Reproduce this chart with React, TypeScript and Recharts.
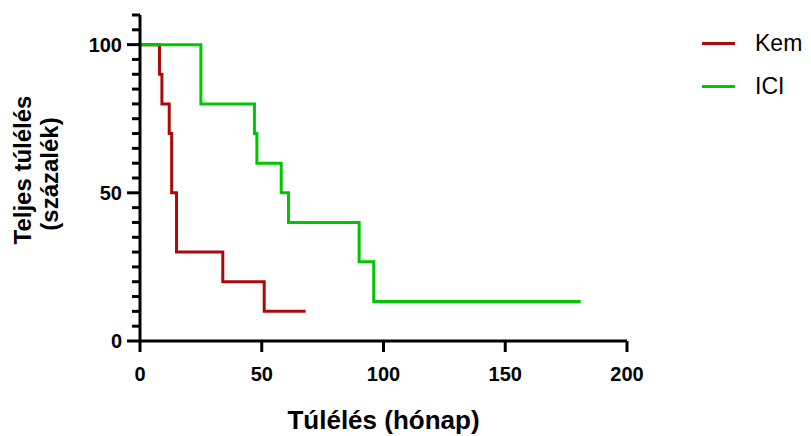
import React from 'react';
import { LineChart, Line, XAxis, YAxis } from 'recharts';

// Kaplan-Meier survival steps (time in months, survival in %)
const kemMonths = [0, 8, 9, 12, 13, 15, 34, 51, 68];
const kemSurvival = [100, 90, 80, 70, 50, 30, 20, 10, 10];

const iciMonths = [0, 25, 47, 48, 58, 61, 90, 96, 181];
const iciSurvival = [100, 80, 70, 60, 50, 40, 26.7, 13.3, 13.3];

const xTicks = [0, 50, 100, 150, 200];
const yTicks = [0, 5, 10, 15, 20, 25, 30, 35, 40, 45, 50, 55, 60, 65, 70, 75, 80, 85, 90, 95, 100, 105, 110];
const yLabelled = [0, 50, 100];

const seriesNames = ['Kem', 'ICI'];
const seriesColors = ['#aa0a0a', '#00c600'];

const kemData = kemMonths.map((t, i) => ({ t, y: kemSurvival[i] }));
const iciData = iciMonths.map((t, i) => ({ t, y: iciSurvival[i] }));

const FONT = '"Liberation Sans", Arial, sans-serif';

const YTick = (props: any) => {
  const { x, y, payload } = props;
  const major = yLabelled.includes(payload.value);
  return (
    <g>
      <line x1={x - (major ? 13 : 8)} x2={x} y1={y} y2={y} stroke="#000" strokeWidth={3} />
      {major && (
        <text x={x - 18} y={y} dy={7} textAnchor="end" fontSize={20} fontWeight="bold" fontFamily={FONT} fill="#000">
          {payload.value}
        </text>
      )}
    </g>
  );
};

const XTick = (props: any) => {
  const { x, y, payload } = props;
  return (
    <g>
      <line x1={x} x2={x} y1={y} y2={y + 11} stroke="#000" strokeWidth={3} />
      <text x={x} y={y + 40} textAnchor="middle" fontSize={20} fontWeight="bold" fontFamily={FONT} fill="#000">
        {payload.value}
      </text>
    </g>
  );
};

const YTitle = (props: any) => {
  const vb = props.viewBox || { x: 0, y: 15, width: 140, height: 326 };
  const cy = vb.y + vb.height / 2 - 8;
  return (
    <g fontFamily={FONT} fontWeight="bold" fontSize={24} fill="#000">
      <text x={31} y={cy} textAnchor="middle" transform={`rotate(-90 31 ${cy})`}>Teljes túlélés</text>
      <text x={58} y={cy + 4} textAnchor="middle" transform={`rotate(-90 58 ${cy + 4})`}>(százalék)</text>
    </g>
  );
};

export default function App() {
  return (
    <div style={{ position: 'absolute', left: 0, top: 0, width: 811, height: 436, background: '#fff' }}>
      <LineChart width={811} height={436} margin={{ top: 15, right: 184, left: 0, bottom: 0 }}>
        <XAxis
          type="number"
          dataKey="t"
          domain={[0, 200]}
          ticks={xTicks}
          interval={0}
          allowDataOverflow
          height={95}
          tickSize={0}
          tickMargin={0}
          tickLine={false}
          axisLine={{ stroke: '#000', strokeWidth: 3 }}
          tick={<XTick />}
          label={{
            value: 'Túlélés (hónap)',
            position: 'insideBottom',
            offset: 7,
            style: { fontFamily: FONT, fontWeight: 'bold', fontSize: 26, fill: '#000' },
          }}
        />
        <YAxis
          type="number"
          domain={[0, 110]}
          ticks={yTicks}
          interval={0}
          width={140}
          tickSize={0}
          tickMargin={0}
          tickLine={false}
          axisLine={{ stroke: '#000', strokeWidth: 3 }}
          tick={<YTick />}
          label={<YTitle />}
        />
        <Line data={kemData} dataKey="y" type="stepAfter" stroke={seriesColors[0]} strokeWidth={3} dot={false} isAnimationActive={false} />
        <Line data={iciData} dataKey="y" type="stepAfter" stroke={seriesColors[1]} strokeWidth={3} dot={false} isAnimationActive={false} />
      </LineChart>
      <div style={{ position: 'absolute', left: 702, top: 22, fontFamily: FONT, fontSize: 23, color: '#000' }}>
        {seriesNames.map((name, i) => (
          <div key={name} style={{ display: 'flex', alignItems: 'center', height: 43 }}>
            <span style={{ display: 'inline-block', width: 33, height: 3, background: seriesColors[i], marginRight: 20 }} />
            <span>{name}</span>
          </div>
        ))}
      </div>
    </div>
  );
}
